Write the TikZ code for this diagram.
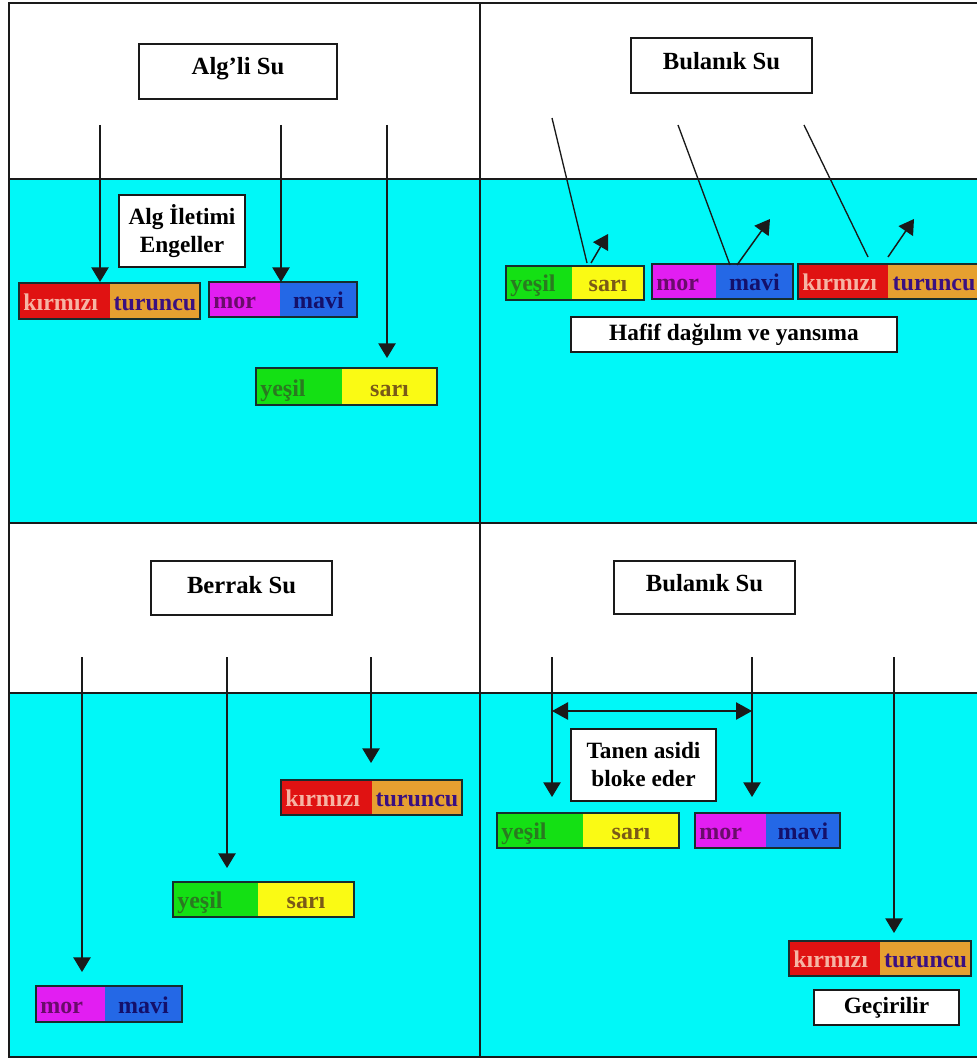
\documentclass[tikz,border=0pt]{standalone}
\usepackage{fontspec}
\setmainfont{Liberation Serif}
\usetikzlibrary{arrows.meta,fit}
\definecolor{water}{HTML}{00F8F8}
\definecolor{ink}{HTML}{1A1A1A}
\definecolor{KTL}{HTML}{E01212}
\definecolor{KTR}{HTML}{E6A030}
\definecolor{KTLt}{HTML}{F6B4A4}
\definecolor{KTRt}{HTML}{3A1080}
\definecolor{MML}{HTML}{E21EF2}
\definecolor{MMR}{HTML}{2468E6}
\definecolor{MMLt}{HTML}{6A0C6A}
\definecolor{MMRt}{HTML}{14106A}
\definecolor{YSL}{HTML}{14E014}
\definecolor{YSR}{HTML}{FAFA14}
\definecolor{YSLt}{HTML}{2A7A20}
\definecolor{YSRt}{HTML}{7A5A18}
\newcommand\wKTL{kırmızı}
\newcommand\wKTR{turuncu}
\newcommand\wMML{mor}
\newcommand\wMMR{mavi}
\newcommand\wYSL{yeşil}
\newcommand\wYSR{sarı}
\tikzset{
  frame/.style={draw=ink,line width=1.4pt},
  boxframe/.style={draw=ink,line width=1.4pt,fill=white,inner sep=0pt},
  titletext/.style={inner sep=0pt,font=\fontsize{18.5}{22}\selectfont\bfseries},
  notetext/.style={inner sep=0pt,align=center,font=\fontsize{17.5}{21}\selectfont\bfseries},
  barframe/.style={draw=ink!80!teal,line width=1.1pt,inner sep=0pt},
  bartext/.style={inner sep=0pt,font=\fontsize{18}{21}\selectfont\bfseries},
  ray/.style={draw=ink,line width=1.1pt,-{Triangle[width=13pt,length=11pt]}},
  inc/.style={draw=ink,line width=1pt},
  dbl/.style={draw=ink,line width=1.1pt,{Triangle[width=13pt,length=12pt]}-{Triangle[width=13pt,length=12pt]}}
}
\newcommand\cbar[7]{%
  \fill[#7L] (#2,#5) rectangle (#3,#6);
  \fill[#7R] (#3,#5) rectangle (#4,#6);
  \node[barframe,fit={(#2,#5)(#4,#6)}] (#1) {};
  \node[bartext,anchor=base west,text=#7Lt] (#1-l) at ({#2+4},{#6-9}) {\csname w#7L\endcsname};
  \node[bartext,anchor=base,text=#7Rt] (#1-r) at ({(#3+#4)/2},{#6-9}) {\csname w#7R\endcsname};
}
\begin{document}
\begin{tikzpicture}[x=0.75pt,y=-0.75pt]
\useasboundingbox (0,0) rectangle (976,1059);
\fill[white] (0,0) rectangle (976,1059);
% water
\fill[water] (9,179) rectangle (982,523);
\fill[water] (9,693) rectangle (982,1057);
% frame lines
\draw[frame] (982,3) -- (9,3) -- (9,1057) -- (982,1057);
\draw[frame] (9,523) -- (982,523);
\draw[frame] (480,3) -- (480,1057);
\draw[frame] (9,179) -- (982,179);
\draw[frame] (9,693) -- (982,693);

% ===== top left =====
\node[boxframe,fit={(139,44)(337,99)}] (t1) {};
\node[titletext] (t1x) at ([yshift=2pt]t1.center) {Alg'li Su};
\node[boxframe,line width=1.2pt,fit={(119,195)(245,267)}] (n1) {};
\node[notetext] (n1x) at (n1.center) {Alg İletimi\\Engeller};
\cbar{tlkt}{19}{110}{200}{283}{319}{KT}
\cbar{tlmm}{209}{280}{357}{282}{317}{MM}
\cbar{tlys}{256}{342}{437}{368}{405}{YS}
\coordinate (a1s) at (100,125); \coordinate (a1e) at (100,282);
\coordinate (a2s) at (281,125); \coordinate (a2e) at (281,282);
\coordinate (a3s) at (387,125); \coordinate (a3e) at (387,358);
\draw[ray] (a1s) -- (a1e);
\draw[ray] (a2s) -- (a2e);
\draw[ray] (a3s) -- (a3e);

% ===== top right =====
\node[boxframe,fit={(631,38)(812,93)}] (t2) {};
\node[titletext] (t2x) at ([yshift=3pt]t2.center) {Bulanık Su};
\cbar{trys}{506}{572}{644}{266}{300}{YS}
\cbar{trmm}{652}{716}{793}{264}{299}{MM}
\cbar{trkt}{798}{888}{980}{264}{299}{KT}
\node[boxframe,line width=1.2pt,fit={(571,317)(897,352)}] (n2) {};
\node[notetext] (n2x) at (n2.center) {Hafif dağılım ve yansıma};
\coordinate (i1s) at (552,118); \coordinate (i1e) at (587,263);
\coordinate (i2s) at (678,125); \coordinate (i2e) at (730,265);
\coordinate (i3s) at (804,125); \coordinate (i3e) at (868,257);
\draw[inc] (i1s) -- (i1e);
\draw[inc] (i2s) -- (i2e);
\draw[inc] (i3s) -- (i3e);
\coordinate (r1s) at (591,263); \coordinate (r1e) at (608,234);
\coordinate (r2s) at (737,265); \coordinate (r2e) at (770,219);
\coordinate (r3s) at (888,257); \coordinate (r3e) at (914,219);
\draw[ray] (r1s) -- (r1e);
\draw[ray] (r2s) -- (r2e);
\draw[ray] (r3s) -- (r3e);

% ===== bottom left =====
\node[boxframe,fit={(151,561)(332,615)}] (t3) {};
\node[titletext] (t3x) at ([yshift=2pt]t3.center) {Berrak Su};
\cbar{blkt}{281}{372}{462}{780}{815}{KT}
\cbar{blys}{173}{258}{354}{882}{917}{YS}
\cbar{blmm}{36}{105}{182}{986}{1022}{MM}
\coordinate (b1s) at (82,657);  \coordinate (b1e) at (82,972);
\coordinate (b2s) at (227,657); \coordinate (b2e) at (227,868);
\coordinate (b3s) at (371,657); \coordinate (b3e) at (371,763);
\draw[ray] (b1s) -- (b1e);
\draw[ray] (b2s) -- (b2e);
\draw[ray] (b3s) -- (b3e);

% ===== bottom right =====
\node[boxframe,fit={(614,561)(795,614)}] (t4) {};
\node[titletext] (t4x) at ([yshift=3pt]t4.center) {Bulanık Su};
\node[boxframe,line width=1.2pt,fit={(571,729)(716,801)}] (n3) {};
\node[notetext] (n3x) at (n3.center) {Tanen asidi\\bloke eder};
\cbar{brys}{497}{583}{679}{813}{848}{YS}
\cbar{brmm}{695}{766}{840}{813}{848}{MM}
\cbar{brkt}{789}{880}{971}{941}{976}{KT}
\node[boxframe,line width=1.2pt,fit={(814,990)(959,1025)}] (n4) {};
\node[notetext] (n4x) at (n4.center) {Geçirilir};
\coordinate (c1s) at (552,657); \coordinate (c1e) at (552,797);
\coordinate (c2s) at (752,657); \coordinate (c2e) at (752,797);
\coordinate (c3s) at (894,657); \coordinate (c3e) at (894,933);
\draw[ray] (c1s) -- (c1e);
\draw[ray] (c2s) -- (c2e);
\draw[ray] (c3s) -- (c3e);
\coordinate (dL) at (552,711); \coordinate (dR) at (752,711);
\draw[dbl] (dL) -- (dR);
\end{tikzpicture}
\end{document}
